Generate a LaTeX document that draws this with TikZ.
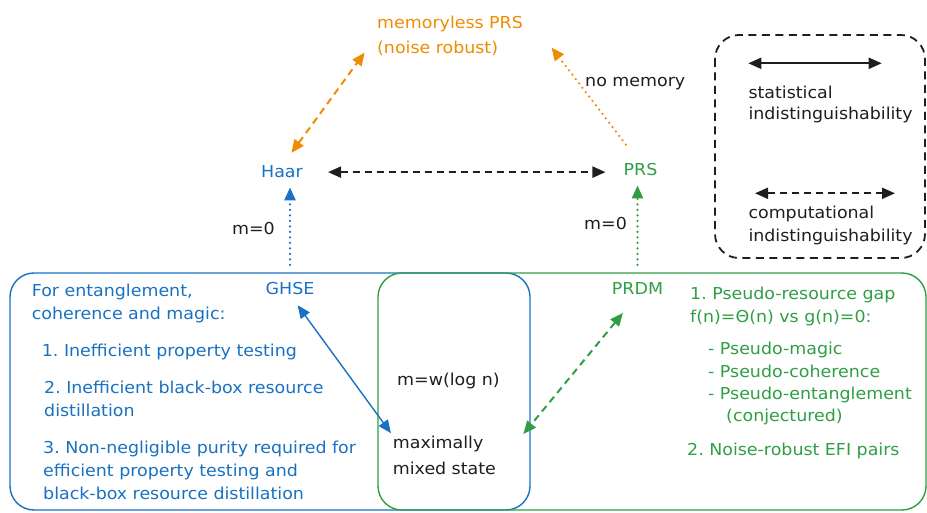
\documentclass[tikz,border=0pt]{standalone}
\usepackage{fontspec}
\setmainfont{DejaVu Sans}[FakeStretch=1.06]
\usetikzlibrary{arrows.meta}
\definecolor{exblue}{HTML}{1971C2}
\definecolor{exgreen}{HTML}{2F9E44}
\definecolor{exorange}{HTML}{F08C00}
\definecolor{exblack}{HTML}{1E1E1E}
\frenchspacing
\begin{document}
\begin{tikzpicture}[x=1bp, y=-1bp,
		txt/.style={inner sep=0pt, font=\fontsize{16.5}{23}\selectfont},
		block/.style={txt, anchor=base west, align=left, text width=#1},
		onetip/.style={-{Triangle[length=13bp,width=11bp]}},
		twotips/.style={{Triangle[length=13bp,width=11bp]}-{Triangle[length=13bp,width=11bp]}},
		dashline/.style={line width=2bp, dash pattern=on 7bp off 5bp},
		dotline/.style={line width=2.5bp, line cap=round, dash pattern=on 0bp off 5.5bp},
		boxline/.style={line width=1.4bp, rounded corners=24bp}]
		\useasboundingbox (0,0) rectangle (927,513);
		\draw[exblue, boxline] (10,273) rectangle (530,510);
		\draw[exgreen, boxline] (378,273) rectangle (926,510);
		\draw[exblack, boxline, line width=1.8bp, dash pattern=on 8bp off 5.5bp] (715,35) rectangle (925,258);
		\node[block=165bp, exorange, font=\fontsize{16.5}{25}\selectfont] (mem) at (377,28.3) {memoryless PRS\\(noise robust)};
		\node[txt, anchor=base, exblue] (haar) at (282,178) {Haar};
		\node[txt, anchor=base, exgreen] (prs) at (640.5,176) {PRS};
		\node[txt, anchor=base west, exblack] (nomem) at (585,86.7) {no memory};
		\node[txt, anchor=base, exblack] (mleft) at (253.5,235) {m=0};
		\node[txt, anchor=base, exblack] (mright) at (605.5,230) {m=0};
		\node[txt, anchor=base, exblue] (ghse) at (290,294.3) {GHSE};
		\node[txt, anchor=base, exgreen] (prdm) at (637.5,295) {PRDM};
		\node[block=210bp, exblue] (ent) at (31.7,296.7) {For entanglement,\\coherence and magic:};
		\node[txt, anchor=base west, exblue] (test) at (41.7,356.7) {1. Inefficient property testing};
		\node[block=330bp, exblue] (distil) at (44,393.3) {2. Inefficient black-box resource\\distillation};
		\node[block=330bp, exblue] (purity) at (43,453.3) {3. Non-negligible purity required for\\efficient property testing and\\black-box resource distillation};
		\node[txt, anchor=base west, exblack] (mlog) at (397,385) {m=w(log n)};
		\node[block=129bp, exblack, font=\fontsize{16.5}{26.5}\selectfont] (mix) at (392.7,448.3) {maximally\\mixed state};
		\node[block=225bp, exgreen] (gap) at (690,300) {1. Pseudo-resource gap\\f(n)=Θ(n) vs g(n)=0:};
		\node[block=215bp, exgreen, font=\fontsize{16.5}{22.3}\selectfont] (pseudo) at (708,355) {- Pseudo-magic\\- Pseudo-coherence\\- Pseudo-entanglement\\\hspace*{18bp}(conjectured)};
		\node[txt, anchor=base west, exgreen] (efi) at (687,455) {2. Noise-robust EFI pairs};
		\node[block=175bp, exblack, font=\fontsize{16.5}{21.7}\selectfont] (stat) at (748.3,98.3) {statistical\\indistinguishability};
		\node[block=175bp, exblack, font=\fontsize{16.5}{23.4}\selectfont] (comp) at (748.3,218.3) {computational\\indistinguishability};
		\draw[exblack, dashline, twotips, shorten <=25bp, shorten >=18bp] (haar.east) -- (haar.east -| prs.west);
		\draw[exorange, dashline, twotips, shorten <=16bp, shorten >=21bp] (haar.north) -- (mem.west);
		\draw[exorange, dotline, onetip, shorten <=24bp, shorten >=15bp] (prs.north) -- (mem.east);
		\draw[exblue, dotline, onetip, shorten <=17bp, shorten >=9bp] (ghse.north) -- (ghse.north |- haar.south);
		\draw[exgreen, dotline, onetip, shorten <=18bp, shorten >=9bp] (prdm.north) -- (prdm.north |- prs.south);
		\draw[exblue, line width=1.4bp, twotips, shorten <=13bp, shorten >=3bp] (ghse.south) -- (mix.north west);
		\draw[exgreen, dashline, twotips, shorten <=23bp, shorten >=2bp] (prdm.south) -- (mix.north east);
		\coordinate (sa) at (748.3,63.3);
		\coordinate (sb) at (881.7,63.3);
		\coordinate (ca) at (755,193.3);
		\coordinate (cb) at (895,193.3);
		\draw[exblack, line width=2bp, twotips] (sa) -- (sb);
		\draw[exblack, dashline, twotips] (ca) -- (cb);
	\end{tikzpicture}
\end{document}
